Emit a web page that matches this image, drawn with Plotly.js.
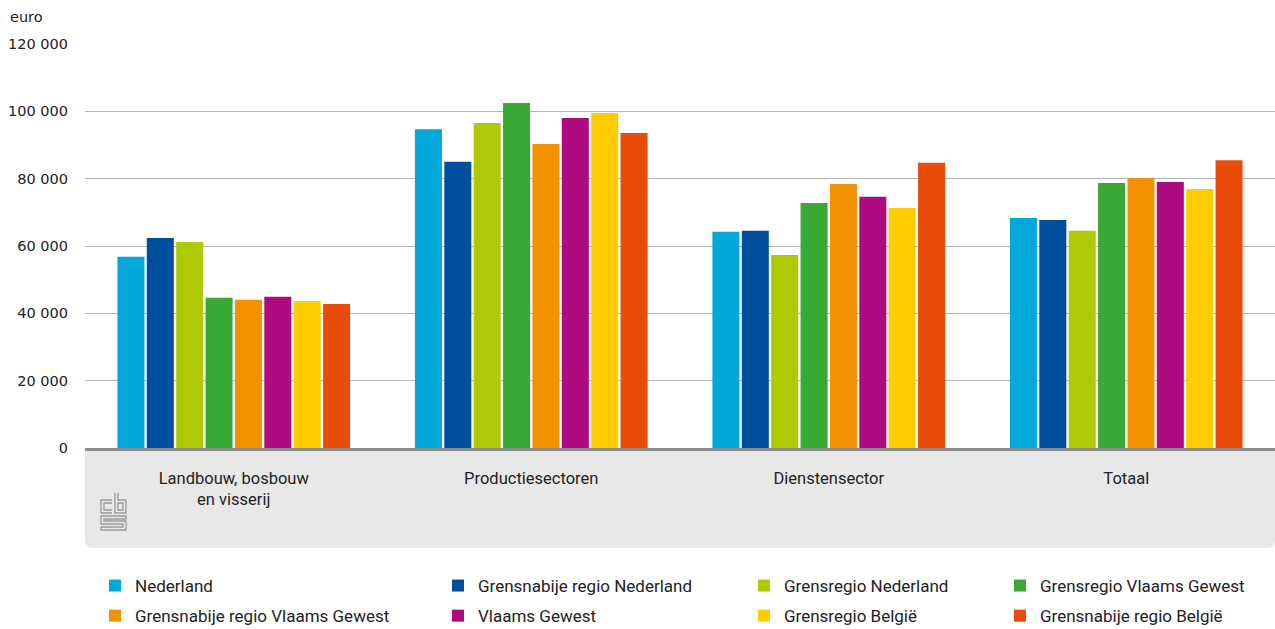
<!DOCTYPE html>
<html>
<head>
<meta charset="utf-8">
<script src="https://cdn.plot.ly/plotly-3.0.1.min.js"></script>
<style>html,body{margin:0;padding:0;background:#fff;}#chart{width:1275px;height:629px;}</style>
</head>
<body>
<div id="chart"></div>
<script>
const categories = ["Landbouw, bosbouw<br>en visserij", "Productiesectoren", "Dienstensector", "Totaal"];
const seriesNames = ["Nederland", "Grensnabije regio Nederland", "Grensregio Nederland", "Grensregio Vlaams Gewest",
  "Grensnabije regio Vlaams Gewest", "Vlaams Gewest", "Grensregio België", "Grensnabije regio België"];
const nederland = [56800, 94700, 64200, 68300];
const grensnabijeNL = [62400, 85000, 64500, 67700];
const grensregioNL = [61200, 96500, 57300, 64500];
const grensregioVG = [44600, 102500, 72800, 78700];
const grensnabijeVG = [44000, 90300, 78400, 80200];
const vlaamsGewest = [44900, 98000, 74600, 79000];
const grensregioBE = [43700, 99500, 71300, 76900];
const grensnabijeBE = [42800, 93600, 84700, 85500];
const seriesValues = [nederland, grensnabijeNL, grensregioNL, grensregioVG, grensnabijeVG, vlaamsGewest, grensregioBE, grensnabijeBE];
const colors = ["#00a9da", "#004f9f", "#afca05", "#39a935", "#f39200", "#af0b80", "#ffcc00", "#e94c08"];
const yTicks = [0, 20000, 40000, 60000, 80000, 100000, 120000];
const yTickText = ["0", "20 000", "40 000", "60 000", "80 000", "100 000", "120 000"];

// legend columns: series i goes to column i % 4
const legendIds = ["legend", "legend2", "legend3", "legend4"];
const traces = seriesNames.map((n, i) => ({
  type: "bar", name: n, x: categories, y: seriesValues[i],
  marker: {color: colors[i], line: {width: 0}}, hoverinfo: "x+y+name",
  legend: legendIds[i % 4], legendgroup: "g" + i, legendrank: i
}));

// pixel -> paper helpers (plot area: x 85..1275, y 44..448)
const L = 85, W = 1190, B = 448, H = 404;
const px = v => (v - L) / W;
const py = v => (B - v) / H;
function path(cmds) {
  return cmds.map(c => c[0] + (c.length > 1 ? " " + px(c[1]).toFixed(5) + "," + py(c[2]).toFixed(5) : "")).join(" ");
}
const r = 8;
const band = "M " + px(85) + "," + py(448) + " L " + px(1275) + "," + py(448) +
  " L " + px(1275) + "," + py(548 - r) + " Q " + px(1275) + "," + py(548) + " " + px(1275 - r) + "," + py(548) +
  " L " + px(85 + r) + "," + py(548) + " Q " + px(85) + "," + py(548) + " " + px(85) + "," + py(548 - r) + " Z";

const logoColor = "#9a9a9a";
const logoPaths = [
  [["M",112,500],["L",101,500],["L",101,513],["L",112,513]],
  [["M",112,503],["L",104,503],["L",104,510],["L",112,510]],
  [["M",115,493],["L",115,513],["L",126,513],["L",126,500],["L",118,500],["L",118,493]],
  [["M",118,503],["L",123,503],["L",123,510],["L",118,510],["Z"]],
  [["M",126,516],["L",101,516],["L",101,524],["L",123,524],["L",123,527],["L",101,527],["L",101,530],["L",126,530],["L",126,521],["L",104,521],["L",104,519],["L",126,519],["Z"]]
];
const shapes = [{type: "path", xref: "paper", yref: "paper", path: band, fillcolor: "#e8e8e8", line: {width: 0}, layer: "below"}]
  .concat(logoPaths.map(p => ({type: "path", xref: "paper", yref: "paper", path: path(p), line: {color: logoColor, width: 1.3}, fillcolor: "rgba(0,0,0,0)"})));

const legendTextX = [135, 478, 784, 1040];
const legendFont = {family: "Roboto, 'Open Sans', sans-serif", size: 17, color: "#222"};
const layout = {
  width: 1275, height: 629,
  margin: {l: 85, r: 0, t: 44, b: 181, pad: 0, autoexpand: false},
  paper_bgcolor: "#ffffff", plot_bgcolor: "#ffffff",
  font: {family: "Roboto, 'Open Sans', sans-serif", size: 15, color: "#222222"},
  barmode: "group", bargap: 0.21, bargroupgap: 0.08,
  showlegend: true,
  xaxis: {type: "category", showgrid: false, showline: true, linecolor: "#8c8c8c", linewidth: 3,
    ticks: "", ticklabelstandoff: 13, fixedrange: true,
    tickfont: {family: "Roboto, 'Open Sans', sans-serif", size: 16.5, color: "#222"}},
  yaxis: {range: [0, 120000], tickvals: yTicks, ticktext: yTickText, showgrid: true,
    gridcolor: "#b5b5b5", gridwidth: 1, zeroline: false, showline: false, ticks: "",
    ticklabelstandoff: 16, fixedrange: true,
    tickfont: {family: "'DejaVu Sans', sans-serif", size: 14.5, color: "#222"}},
  shapes: shapes,
  annotations: [{text: "euro", xref: "paper", yref: "paper", x: px(8), y: py(17), xanchor: "left", yanchor: "middle",
    showarrow: false, font: {family: "'DejaVu Sans', sans-serif", size: 14.5, color: "#222"}}]
};
legendIds.forEach((id, k) => {
  layout[id] = {orientation: "v", x: px(legendTextX[k] - 40), xanchor: "left", y: py(568), yanchor: "top",
    font: legendFont, tracegroupgap: 5, bgcolor: "rgba(0,0,0,0)", borderwidth: 0, traceorder: "grouped"};
});
Plotly.newPlot("chart", traces, layout, {displayModeBar: false, staticPlot: true});
</script>
</body>
</html>
